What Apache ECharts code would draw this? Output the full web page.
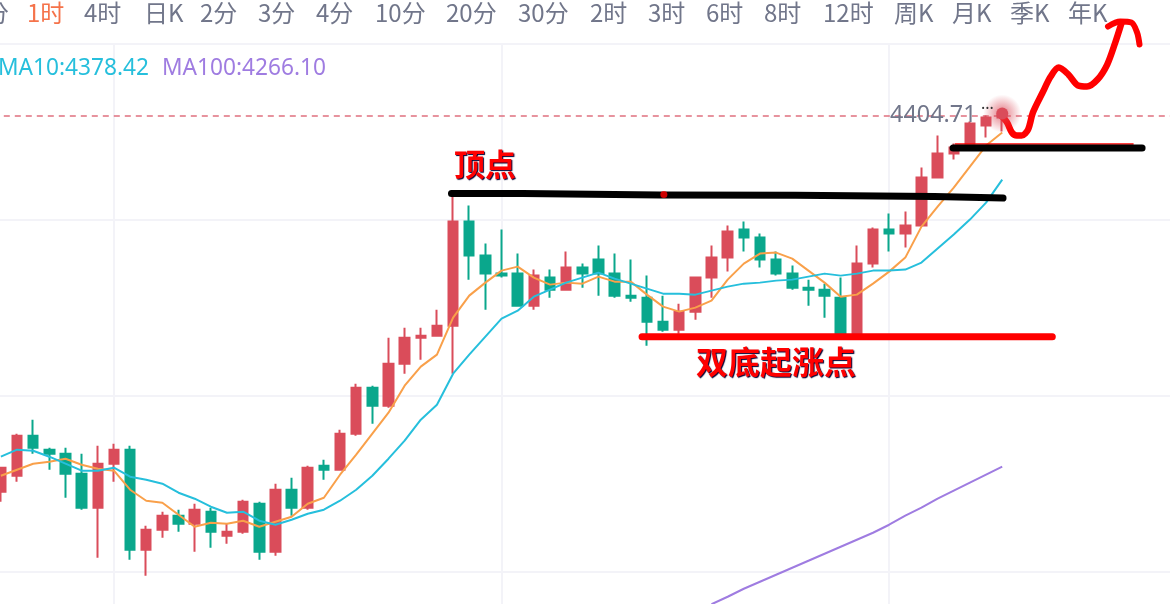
<!DOCTYPE html>
<html>
<head>
<meta charset="utf-8">
<script src="https://cdn.jsdelivr.net/npm/echarts@6/dist/echarts.min.js"></script>
<style>
html, body { margin: 0; padding: 0; background: #fff; }
#kline { width: 1170px; height: 604px; }
</style>
</head>
<body>
<div id="kline"></div>
<script>
var opens = [4254.3, 4260.7, 4276.7, 4271.1, 4269.5, 4261.5, 4247.9, 4265.5, 4271.1, 4231.1, 4239.1, 4244.7, 4241.5, 4246.3, 4236.7, 4238.3, 4249.5, 4230.3, 4255.1, 4247.9, 4264.7, 4263.1, 4277.5, 4295.9, 4288.7, 4305.5, 4315.9, 4316.7, 4320.7, 4362.3, 4348.7, 4341.5, 4341.5, 4328.7, 4339.9, 4335.1, 4343.9, 4347.1, 4341.5, 4332.7, 4331.9, 4322.3, 4319.1, 4326.3, 4339.9, 4347.9, 4359.1, 4355.9, 4347.1, 4341.5, 4335.9, 4335.1, 4331.9, 4315.9, 4345.5, 4359.1, 4357.5, 4360.7, 4379.9, 4389.5, 4393.5, 4400.7, 4403.9];
var closes = [4263.9, 4276.7, 4271.9, 4269.5, 4261.5, 4247.9, 4265.5, 4271.1, 4231.1, 4239.1, 4244.7, 4241.5, 4247.1, 4238.3, 4238.3, 4250.3, 4230.3, 4255.1, 4247.9, 4263.9, 4263.1, 4277.5, 4295.9, 4288.7, 4305.5, 4315.9, 4316.7, 4320.7, 4362.3, 4348.7, 4341.5, 4340.7, 4328.7, 4340.7, 4335.1, 4343.9, 4341.5, 4341.5, 4332.7, 4331.9, 4322.3, 4319.1, 4326.3, 4339.9, 4347.9, 4358.3, 4355.9, 4347.1, 4341.5, 4335.9, 4335.1, 4332.7, 4315.9, 4345.5, 4359.1, 4357.5, 4360.7, 4379.9, 4389.5, 4391.9, 4401.5, 4403.9, 4404.71];
var lows = [4250.3, 4258.3, 4269.5, 4263.1, 4251.9, 4247.1, 4227.9, 4258.3, 4227.1, 4220.7, 4235.9, 4238.3, 4230.3, 4231.9, 4233.5, 4237.5, 4227.1, 4228.7, 4244.7, 4247.1, 4259.1, 4263.1, 4276.7, 4281.5, 4287.9, 4301.5, 4307.1, 4316.7, 4301.5, 4339.1, 4327.1, 4339.9, 4328.7, 4327.1, 4331.9, 4335.1, 4335.9, 4332.7, 4331.9, 4330.3, 4312.7, 4318.3, 4317.5, 4323.1, 4331.9, 4342.3, 4350.3, 4343.9, 4340.7, 4335.1, 4328.7, 4323.9, 4315.9, 4315.9, 4343.9, 4350.3, 4351.9, 4360.7, 4379.9, 4387.1, 4393.5, 4395.9, 4398.3];
var highs = [4263.9, 4277.5, 4283.1, 4271.9, 4271.9, 4269.5, 4272.7, 4273.5, 4272.7, 4240.7, 4246.3, 4247.1, 4249.5, 4247.9, 4241.5, 4251.1, 4250.3, 4257.5, 4259.9, 4264.7, 4267.1, 4279.1, 4297.5, 4296.7, 4315.9, 4319.9, 4319.9, 4327.1, 4373.5, 4368.7, 4353.5, 4359.1, 4349.5, 4343.1, 4343.1, 4350.3, 4345.5, 4352.7, 4349.5, 4347.1, 4340.7, 4332.7, 4329.5, 4339.9, 4352.7, 4360.7, 4362.3, 4357.5, 4350.3, 4344.7, 4339.1, 4337.5, 4339.9, 4352.7, 4359.9, 4365.5, 4366.3, 4383.9, 4396.7, 4393.5, 4402.3, 4404.7, 4406.3];

var ma5 = [4260.7, 4263.1, 4265.5, 4266.3, 4267.5, 4265.1, 4263.5, 4262.7, 4255.1, 4250.7, 4249.9, 4245.1, 4240.3, 4241.9, 4241.5, 4242.7, 4240.3, 4242.3, 4244.3, 4249.5, 4251.9, 4261.1, 4269.1, 4277.5, 4285.9, 4296.7, 4304.3, 4309.1, 4323.9, 4332.7, 4337.9, 4342.7, 4344.3, 4339.9, 4337.1, 4337.9, 4337.5, 4340.3, 4338.3, 4338.3, 4333.1, 4328.3, 4326.3, 4327.9, 4330.7, 4339.1, 4345.5, 4349.5, 4349.9, 4347.5, 4342.7, 4337.9, 4332.3, 4333.1, 4337.5, 4342.3, 4347.9, 4360.3, 4368.3, 4375.9, 4384.3, 4392.7, 4397.9];
var ma10 = [4268.3, 4271.1, 4270.7, 4268.3, 4265.5, 4262.7, 4262.7, 4263.9, 4260.3, 4259.1, 4257.5, 4253.9, 4251.5, 4248.3, 4245.9, 4246.3, 4242.7, 4241.1, 4243.1, 4245.5, 4247.1, 4250.7, 4255.1, 4260.7, 4267.5, 4274.7, 4283.1, 4289.1, 4301.5, 4309.1, 4316.3, 4323.5, 4326.7, 4332.3, 4335.1, 4337.9, 4339.9, 4341.9, 4339.5, 4337.5, 4335.5, 4333.5, 4333.5, 4333.1, 4334.7, 4336.3, 4337.5, 4337.9, 4338.7, 4339.1, 4340.3, 4341.5, 4340.7, 4341.5, 4342.7, 4342.7, 4343.1, 4345.9, 4351.5, 4357.1, 4363.1, 4369.9, 4379.1];
// ma100 only shows up on screen from bar 44 on
var ma100Tail = [4209.3, 4212.3, 4215.5, 4218.3, 4221.1, 4223.9, 4226.7, 4229.5, 4232.3, 4235.1, 4237.9, 4241.1, 4244.7, 4247.9, 4251.5, 4254.7, 4257.9, 4261.1, 4264.3];
var ma100 = new Array(44).fill(null).concat(ma100Tail);

var lastPrice = 4404.71;
var slotCount = 73; // empty bars to the right of the last candle
var timeGridBars = [7, 31, 55];
var priceStep = 70.37;

var tabLabels = ['分', '1时', '4时', '日K', '2分', '3分', '4分', '10分', '20分', '30分', '2时', '3时', '6时', '8时', '12时', '周K', '月K', '季K', '年K'];
var tabLeft = [-15, 27, 84, 144, 200, 258, 316, 375, 446, 518, 590, 648, 706, 764, 823, 894, 952, 1010, 1068];

// hand drawn marks, [bar number, price]
var topLine = [[27.9, 4373.5], [32.3, 4373.5], [32.3, 4372.9], [40.8, 4372.9], [40.8, 4372.8], [49.2, 4372.8], [49.2, 4372.3], [57.8, 4372.3], [57.8, 4371.7], [62.05, 4371.7]];
var rightLine = [[58.96, 4391.7], [70.66, 4391.7]];
var rightThinLine = [[59.1, 4393.3], [70.1, 4393.3]];
var bottomLine = [[39.7, 4316.3], [65.1, 4316.3]];
var scribble = [[61.93, 4404.7], [62.3, 4401.9], [62.6, 4397.9], [62.9, 4396.7], [63.2, 4396.7], [63.6, 4399.1], [63.9, 4405.9], [64.5, 4413.9], [65.0, 4420.3], [65.5, 4423.9], [66.1, 4421.1], [66.7, 4416.7], [67.25, 4416.3], [67.9, 4419.1], [68.5, 4425.1], [69.0, 4433.9], [69.3, 4439.9], [69.4, 4441.9]];
var scribbleHook = [[68.55, 4440.3], [69.3, 4442.3], [70.0, 4441.9], [70.35, 4437.9], [70.5, 4433.1]];
var redDot = [[41.05, 4373.1]];
var lastDot = [[62, 4405.5]];

var slots = [];
for (var i = 0; i < slotCount; i++) {
    slots.push(String(i));
}

var candles = opens.map(function (o, i) {
    return [o, closes[i], lows[i], highs[i]];
});

function maLine(name, values, color) {
    return {
        name: name,
        type: 'line',
        data: values,
        showSymbol: false,
        connectNulls: false,
        clip: false,
        z: 3,
        lineStyle: { color: color, width: 2 }
    };
}

function drawn(values, color, width, smooth) {
    return {
        type: 'line',
        xAxisIndex: 1,
        data: values,
        showSymbol: false,
        clip: false,
        smooth: smooth || false,
        z: 6,
        lineStyle: { color: color, width: width, cap: 'round', join: 'round' }
    };
}

var graphics = tabLabels.map(function (t, i) {
    return {
        type: 'text',
        left: tabLeft[i],
        top: 1,
        z: 10,
        style: {
            text: t,
            fill: t === '1时' ? '#f5734a' : '#71768a',
            font: '24px "Noto Sans CJK SC"'
        }
    };
});

graphics.push(
    { type: 'text', left: -2, top: 57, z: 10, style: { text: 'MA10:4378.42', fill: '#26bfdc', font: '22.7px "Noto Sans"' } },
    { type: 'text', left: 162, top: 57, z: 10, style: { text: 'MA100:4266.10', fill: '#9f7ce1', font: '22.7px "Noto Sans"' } },
    { type: 'text', left: 890, top: 104, z: 10, style: { text: '4404.71', fill: '#71768a', font: '23.4px "Noto Sans"' } },
    { type: 'text', left: 981, top: 101, z: 10, style: { text: '···', fill: '#333', font: '16px "Noto Sans"' } },
    {
        type: 'text', left: 454, top: 149, z: 10,
        style: {
            text: '顶点', fill: '#f00', font: 'bold 31px "Noto Sans CJK SC"',
            textShadowColor: '#003', textShadowBlur: 1, textShadowOffsetX: 1, textShadowOffsetY: 1
        }
    },
    {
        type: 'text', left: 696, top: 346, z: 10,
        style: {
            text: '双底起涨点', fill: '#f00', font: 'bold 32px "Noto Sans CJK SC"',
            textShadowColor: '#003', textShadowBlur: 1, textShadowOffsetX: 1, textShadowOffsetY: 1
        }
    }
);

var kline = echarts.init(document.getElementById('kline'));

var kline_option = {
    animation: false,
    backgroundColor: '#fff',
    graphic: graphics,
    grid: { left: -7.2, top: 44, width: 1179, height: 704, outerBoundsMode: 'none' },
    xAxis: [
        {
            type: 'category',
            data: slots,
            axisLine: { show: false },
            axisTick: { show: false },
            axisLabel: { show: false },
            splitLine: { show: false }
        },
        {
            type: 'value',
            min: -0.5,
            max: 72.5,
            show: false
        }
    ],
    yAxis: {
        type: 'value',
        min: priceStep * 59,
        max: priceStep * 63,
        interval: priceStep,
        axisLine: { show: false },
        axisTick: { show: false },
        axisLabel: { show: false },
        splitLine: { lineStyle: { color: '#f3f3f8', width: 2 } }
    },
    series: [
        {
            type: 'line',
            data: [],
            z: 0,
            markLine: {
                silent: true,
                symbol: 'none',
                z: 0,
                label: { show: false },
                lineStyle: { color: '#f3f3f8', width: 2, type: 'solid' },
                data: timeGridBars.map(function (b) { return { xAxis: b }; })
            }
        },
        {
            name: 'K',
            type: 'candlestick',
            data: candles,
            barWidth: 10,
            z: 2,
            itemStyle: {
                color: '#da4c5a',
                color0: '#0aa78c',
                borderColor: '#da4c5a',
                borderColor0: '#0aa78c',
                borderWidth: 2
            },
            markLine: {
                silent: true,
                symbol: 'none',
                z: 1,
                label: { show: false },
                lineStyle: { color: '#e0707f', width: 1.5, type: [6, 5] },
                data: [{ yAxis: lastPrice }]
            }
        },
        maLine('MA5', ma5, '#f9a04a'),
        maLine('MA10', ma10, '#26bfdc'),
        maLine('MA100', ma100, '#9f7ce1'),
        drawn(rightThinLine, '#f00', 1.5),
        drawn(topLine, '#000', 7),
        drawn(rightLine, '#000', 7),
        drawn(bottomLine, '#f00', 7),
        drawn(scribble, '#f00', 6.5, 0.3),
        drawn(scribbleHook, '#f00', 6, 0.3),
        {
            type: 'scatter',
            xAxisIndex: 1,
            data: redDot,
            symbolSize: 7,
            z: 7,
            itemStyle: { color: '#f00' }
        },
        {
            // glow round the last price
            type: 'scatter',
            xAxisIndex: 1,
            data: lastDot,
            symbolSize: 38,
            z: 7,
            itemStyle: {
                opacity: 1,
                color: new echarts.graphic.RadialGradient(0.5, 0.5, 0.5, [
                    { offset: 0, color: 'rgba(218,76,90,0.75)' },
                    { offset: 1, color: 'rgba(218,76,90,0)' }
                ])
            }
        },
        {
            type: 'scatter',
            xAxisIndex: 1,
            data: lastDot,
            symbolSize: 12,
            z: 8,
            itemStyle: { color: '#da4c5a', opacity: 1 }
        }
    ]
};

kline.setOption(kline_option);
</script>
</body>
</html>
